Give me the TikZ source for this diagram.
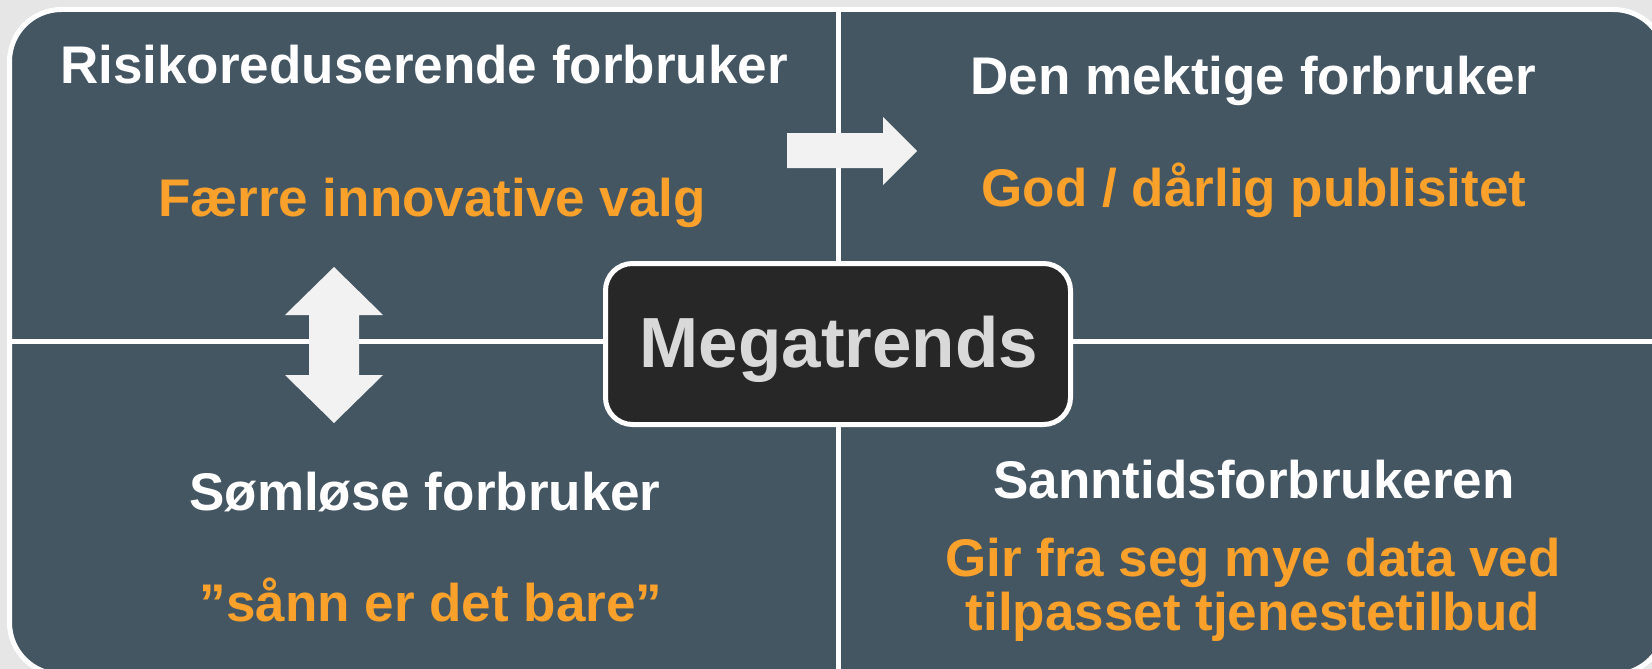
\documentclass[tikz,border=0pt]{standalone}
\usepackage{fontspec}
\setmainfont{Liberation Sans}
\definecolor{bggray}{HTML}{E6E6E6}
\definecolor{slate}{HTML}{455663}
\definecolor{orangetxt}{HTML}{F9A12B}
\definecolor{boxdark}{HTML}{272727}
\definecolor{megagray}{HTML}{D9D9D9}
\definecolor{arrowfill}{HTML}{F2F2F2}
\tikzset{
  title/.style={text=white, inner sep=0pt, anchor=base, font=\fontsize{53}{56}\selectfont\bfseries},
  sub/.style={text=orangetxt, inner sep=0pt, anchor=base, align=center, font=\fontsize{53}{54}\selectfont\bfseries},
  divider/.style={white, line width=5pt},
  blockarrow/.style={fill=arrowfill, draw=none},
}
\begin{document}
\begin{tikzpicture}[x=1pt,y=-1pt]
\clip (0,0) rectangle (1652,669);
\fill[bggray] (0,0) rectangle (1652,669);
% frame
\draw[white, line width=5pt, fill=slate, rounded corners=52pt] (9.5,9.5) rectangle (1665.5,674.5);
% dividers
\coordinate (vt) at (838,12);
\coordinate (vb) at (838,672);
\coordinate (hl) at (12,341);
\coordinate (hr) at (1663,341);
\draw[divider] (vt) -- (vb);
\draw[divider] (hl) -- (hr);
% arrows
\fill[blockarrow] (787,133) -- (883,133) -- (883,117) -- (917,151) -- (883,185) -- (883,168) -- (787,168) -- cycle;
\fill[blockarrow] (334,267) -- (383,315) -- (359,315) -- (359,375) -- (383,375) -- (334,423) -- (285,375) -- (309,375) -- (309,315) -- (285,315) -- cycle;
% center box
\draw[white, line width=5pt, fill=boxdark, rounded corners=27pt] (605.5,263.5) rectangle (1070.5,424.5);
\node[text=megagray, inner sep=0pt, anchor=base, font=\fontsize{71}{75}\selectfont\bfseries] (mega) at (839,367) {Megatrends};
% texts
\node[title] (t1) at (424,84) {Risikoreduserende forbruker};
\node[sub] (s1) at (432,216) {Færre innovative valg};
\node[title] (t2) at (1253,95) {Den mektige forbruker};
\node[sub] (s2) at (1254,206) {God / dårlig publisitet};
\node[title] (t3) at (425,510) {Sømløse forbruker};
\node[sub] (s3) at (431,621) {”sånn er det bare”};
\node[title] (t4) at (1254,498) {Sanntidsforbrukeren};
\node[sub] (s4a) at (1253,576) {Gir fra seg mye data ved};
\node[sub] (s4b) at (1253,630) {tilpasset tjenestetilbud};
\end{tikzpicture}
\end{document}
